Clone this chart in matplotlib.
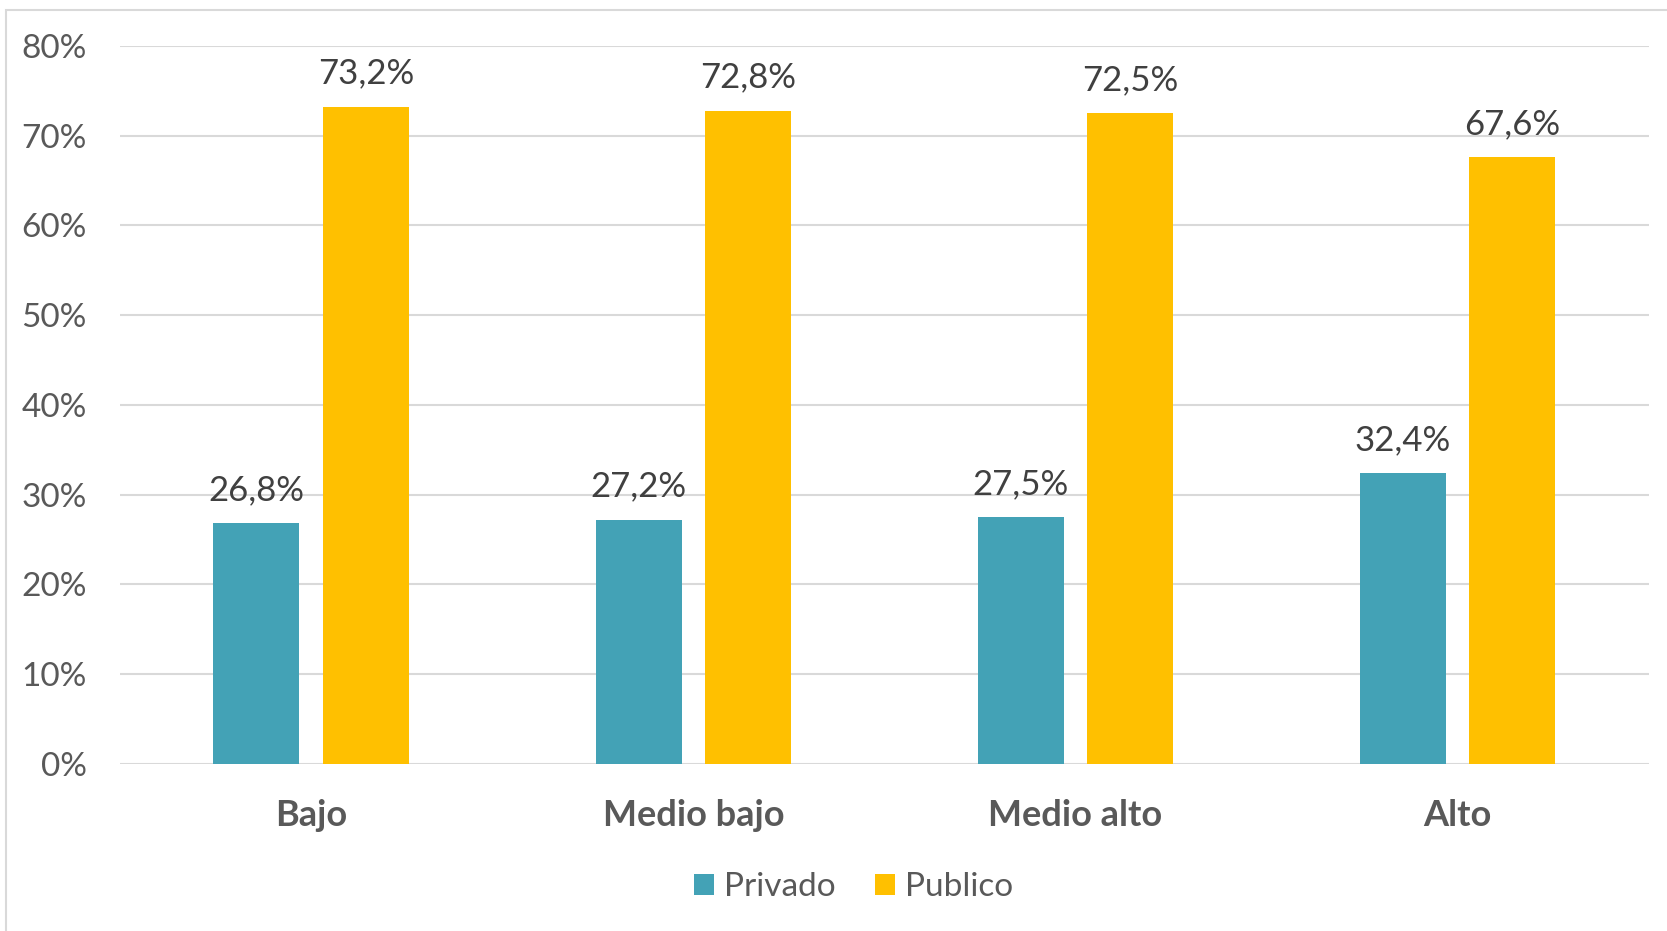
import matplotlib.pyplot as plt
from matplotlib.patches import Rectangle
import numpy as np

categorias = ["Bajo", "Medio bajo", "Medio alto", "Alto"]
privado = [26.8, 27.2, 27.5, 32.4]
publico = [73.2, 72.8, 72.5, 67.6]
series = ["Privado", "Publico"]

plt.rcParams['font.family'] = ['Lato', 'DejaVu Sans']

fig = plt.figure(figsize=(16.67, 9.31), dpi=100)
ax = fig.add_axes([0.072, 0.1794, 0.917, 0.7712])

x = np.arange(len(categorias))
ancho = 0.225
off = 0.143
b1 = ax.bar(x - off, privado, ancho, color='#43A2B6', label=series[0], zorder=3)
b2 = ax.bar(x + off, publico, ancho, color='#FFC000', label=series[1], zorder=3)

# etiquetas de datos
for barras, vals in [(b1, privado), (b2, publico)]:
    for b, v in zip(barras, vals):
        ax.annotate(f"{v:.1f}%".replace('.', ','), (b.get_x() + b.get_width() / 2, v),
                    xytext=(0, 24), textcoords='offset points', ha='center', va='center',
                    fontsize=25, color='#404040')

ax.set_xlim(-0.5, 3.5)
ax.set_ylim(0, 80)
ax.set_yticks(range(0, 81, 10))
ax.set_yticklabels([f"{t}%" for t in range(0, 81, 10)], fontsize=24, color='#595959')
ax.set_xticks(x)
ax.set_xticklabels(categorias, fontsize=26, fontweight='bold', color='#595959')
ax.tick_params(axis='both', length=0)
ax.tick_params(axis='x', pad=25)
ax.tick_params(axis='y', pad=24)
ax.grid(axis='y', color='#D9D9D9', linewidth=1.5, zorder=0)
for s in ax.spines.values():
    s.set_visible(False)
ax.axhline(0, color='#D9D9D9', linewidth=2, zorder=2)

fig.legend(loc='center', bbox_to_anchor=(0.512, 0.047), ncol=2, frameon=False,
           fontsize=24, labelcolor='#595959', handlelength=0.6, handleheight=0.6,
           handletextpad=0.3, columnspacing=1.2)

# borde del grafico
fig.patches.append(Rectangle((6 / 1667, -0.01), 1.02, 1 - 10 / 931 + 0.01, transform=fig.transFigure,
                             fill=False, edgecolor='#D9D9D9', linewidth=1.5, zorder=0))

fig.savefig('out.png', dpi=100)
